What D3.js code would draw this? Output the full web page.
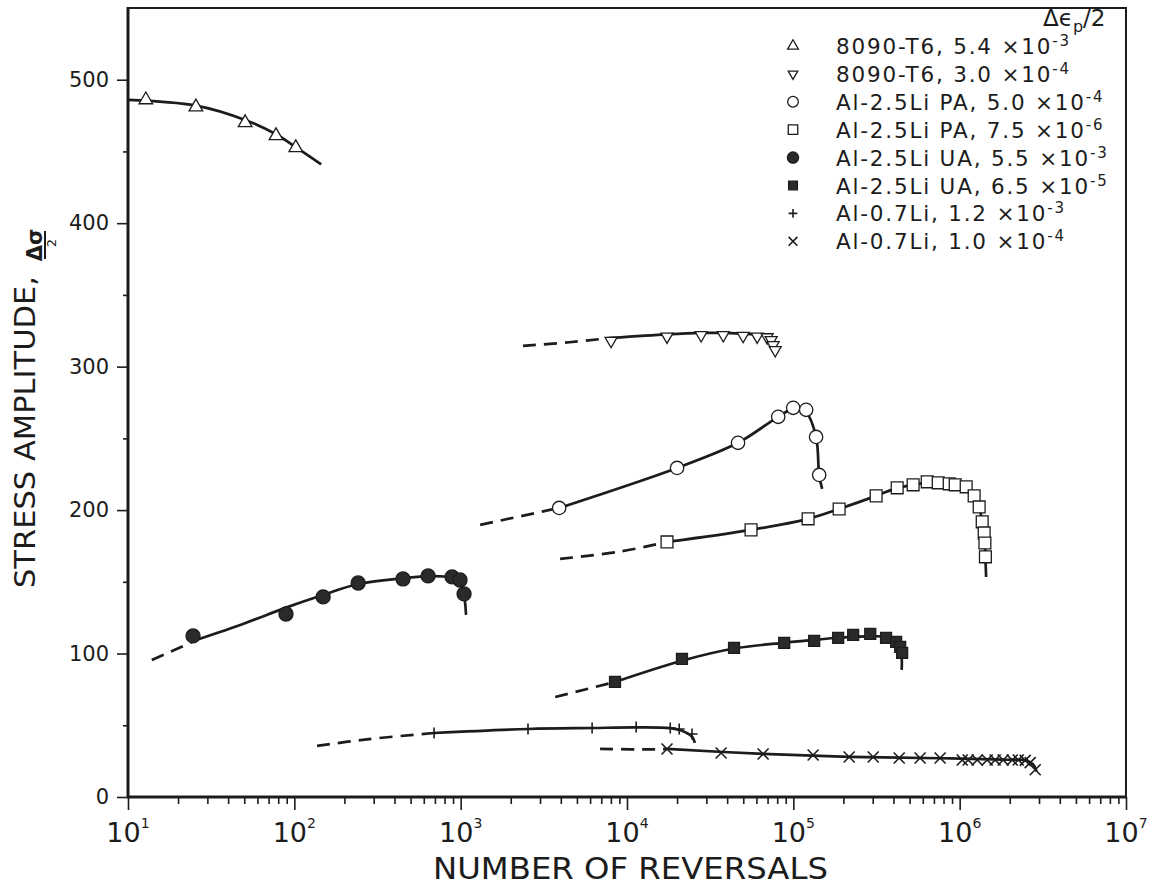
<!DOCTYPE html>
<html>
<head>
<meta charset="utf-8">
<script src="https://cdn.jsdelivr.net/npm/d3@7"></script>
<style>
  body { margin: 0; background: #fff; }
  text { font-family: "DejaVu Sans", "Liberation Sans", sans-serif; fill: #1c1c1c; }
</style>
</head>
<body>
<div id="chart-area"></div>
<script>
// values: [reversals, stress amplitude]
var t6High = [[12.8,486],[25.6,481],[50.6,470],[77.6,461],[102,452.6]];
var t6HighFit = [[10,486],[25.6,482],[50.6,472],[77.6,462],[102,453],[145,441]];

var t6Low = [[8020,318],[17400,321],[27900,322],[37900,322],[49900,321.5],[60600,321],[69600,320.5],[73600,318.5],[75600,315],[77800,311.5]];
var t6LowFit = [[8020,320],[17400,322.5],[27900,323.5],[37900,323.5],[49900,323],[60600,322.5],[69600,321.5],[75000,318],[78500,311]];
var t6LowDash = [[2370,314.5],[4500,317],[8020,320]];

var paHigh = [[3910,201.5],[20000,229.4],[46500,246.9],[81100,265],[99800,271.3],[119400,269.9],[137000,251],[143000,224.5]];
var paHighFit = [[3910,201.5],[20000,229.4],[46500,246.9],[81100,265],[99800,270.5],[119400,268],[137000,251],[143000,224.5],[149000,214.8]];
var paHighDash = [[1310,189.7],[3910,201.5]];

var paLow = [[17400,177.8],[55700,186.2],[122700,193.9],[188500,200.8],[314600,209.9],[421000,215.5],[525000,217.6],[638000,219.7],[743000,219],[865000,218.3],[940000,217.6],[1094000,216.2],[1222000,209.9],[1310000,202.2],[1366000,191.8],[1404000,184.1],[1418000,177.1],[1428000,167.4]];
var paLowFit = [[17400,177.8],[55700,186.2],[122700,193.9],[188500,200.8],[314600,209.9],[421000,215.5],[525000,217.6],[638000,219.2],[865000,218.3],[1094000,216.2],[1222000,209.9],[1310000,202.2],[1366000,191.8],[1404000,184.1],[1418000,177.1],[1428000,167.4],[1442000,153.4]];
var paLowDash = [[3960,166],[9000,171],[17400,177.8]];

var uaHigh = [[24.6,112.3],[89.1,127.6],[149,139.5],[242,149.2],[450,152],[637,154.1],[888,153.4],[991,151.3],[1048,141.6]];
var uaHighFit = [[26.5,110],[50,121],[89,132],[150,141],[242,148.5],[450,152.5],[640,154],[890,153],[990,150],[1050,140],[1077,127]];
var uaHighDash = [[13.9,95.5],[26.5,110]];

var uaLow = [[8470,80.2],[21400,96.2],[44000,103.9],[88100,107.4],[133400,108.8],[186000,110.9],[229000,113],[290000,113.7],[361000,110.9],[415000,108.1],[439000,104.6],[451000,100.4]];
var uaLowFit = [[8470,80.2],[21400,95],[44000,103.5],[88100,107.5],[133400,109.5],[186000,111],[290000,112],[361000,111.5],[415000,108],[445000,100],[448000,88.6]];
var uaLowDash = [[3700,69.7],[8470,80.2]];

var liHigh = [[692,44.6],[2540,47.4],[6170,48.1],[11350,48.8],[18200,48.1],[20600,47.4],[24600,43.9]];
var liHighFit = [[692,44.6],[2540,47.4],[6170,48.1],[11350,48.5],[18200,48],[21000,46.5],[24600,42],[25600,37.7]];
var liHighDash = [[137,35.6],[273,40.2],[692,44.6]];

var liLow = [[17400,33.5],[36800,30.7],[65800,30],[131500,29.3],[216600,27.9],[302000,27.9],[433000,27.2],[578000,27.2],[763000,27.2],[1036000,25.8],[1125000,25.8],[1274000,25.8],[1463000,25.8],[1634000,25.8],[1826000,25.8],[2070000,25.8],[2250000,25.8],[2478000,25.5],[2655000,24],[2845000,19]];
var liLowFit = [[17400,33.5],[65800,30],[216600,28],[763000,27],[1826000,26],[2478000,25.5],[2750000,23],[2900000,18]];
var liLowDash = [[6890,33.5],[14800,33.2],[17400,33.5]];

var legendNames = ["8090-T6, 5.4 \u00d710", "8090-T6, 3.0 \u00d710", "Al-2.5Li PA, 5.0 \u00d710", "Al-2.5Li PA, 7.5 \u00d710",
                   "Al-2.5Li UA, 5.5 \u00d710", "Al-2.5Li UA, 6.5 \u00d710", "Al-0.7Li, 1.2 \u00d710", "Al-0.7Li, 1.0 \u00d710"];
var legendExps = ["-3", "-4", "-4", "-6", "-3", "-5", "-3", "-4"];
var markerKinds = ["triUp", "triDown", "circle", "square", "dot", "block", "plus", "cross"];

var yMajor = [0, 100, 200, 300, 400, 500];
var yMinor = [50, 150, 250, 350, 450];
var xDecades = [1, 2, 3, 4, 5, 6, 7];

var series = [
  { pts: t6High, fit: t6HighFit, dash: null },
  { pts: t6Low, fit: t6LowFit, dash: t6LowDash },
  { pts: paHigh, fit: paHighFit, dash: paHighDash },
  { pts: paLow, fit: paLowFit, dash: paLowDash },
  { pts: uaHigh, fit: uaHighFit, dash: uaHighDash },
  { pts: uaLow, fit: uaLowFit, dash: uaLowDash },
  { pts: liHigh, fit: liHighFit, dash: liHighDash },
  { pts: liLow, fit: liLowFit, dash: liLowDash }
];

var ink = "#1c1c1c";

var svg = d3.select("#chart-area")
  .append("svg")
  .attr("width", 1149)
  .attr("height", 894);

var x = d3.scaleLog()
  .domain([10, 1e7])
  .range([128, 1126]);

var y = d3.scaleLinear()
  .domain([0, 550])
  .range([797, 8]);

// axes
var yAxis = svg.append("g")
  .attr("transform", "translate(128,0)")
  .call(d3.axisLeft(y).tickValues(yMajor).tickSize(11).tickPadding(8));
yAxis.select(".domain").remove();
yAxis.selectAll("text").attr("font-size", 21).attr("font-family", "DejaVu Sans").attr("fill", ink);

var yMinorAxis = svg.append("g")
  .attr("transform", "translate(128,0)")
  .call(d3.axisLeft(y).tickValues(yMinor).tickSize(5).tickFormat(""));
yMinorAxis.select(".domain").remove();

var minorX = [];
xDecades.slice(0, -1).forEach(function(e) {
  for (var k = 2; k < 10; k++) minorX.push(k * Math.pow(10, e));
});

var xAxis = svg.append("g")
  .attr("transform", "translate(0,797)")
  .call(d3.axisBottom(x).tickValues(xDecades.map(function(e) { return Math.pow(10, e); })).tickSize(13).tickFormat(""));
xAxis.select(".domain").remove();

var xMinorAxis = svg.append("g")
  .attr("transform", "translate(0,797)")
  .call(d3.axisBottom(x).tickValues(minorX).tickSize(7).tickFormat(""));
xMinorAxis.select(".domain").remove();

svg.selectAll(".tick line").attr("stroke", ink).attr("stroke-width", 1.6);

var xLabels = svg.append("g")
  .selectAll("text")
  .data(xDecades)
  .enter()
  .append("text")
  .attr("x", function(d) { return x(Math.pow(10, d)); })
  .attr("y", 842)
  .attr("text-anchor", "middle")
  .attr("font-family", "Liberation Sans")
  .attr("font-size", 27);
xLabels.append("tspan").text("10");
xLabels.append("tspan").attr("dy", -14).attr("font-size", 14).text(function(d) { return d; });

// frame
svg.append("line").attr("x1", 128).attr("x2", 128).attr("y1", 7).attr("y2", 798)
  .attr("stroke", ink).attr("stroke-width", 3);
svg.append("line").attr("x1", 127).attr("x2", 1127).attr("y1", 797).attr("y2", 797)
  .attr("stroke", ink).attr("stroke-width", 3);
svg.append("line").attr("x1", 128).attr("x2", 1127).attr("y1", 8).attr("y2", 8)
  .attr("stroke", ink).attr("stroke-width", 2);
svg.append("line").attr("x1", 1126).attr("x2", 1126).attr("y1", 8).attr("y2", 797)
  .attr("stroke", ink).attr("stroke-width", 2);

// axis titles
svg.append("text")
  .attr("x", 433)
  .attr("y", 879)
  .attr("font-size", 30)
  .attr("textLength", 395)
  .attr("lengthAdjust", "spacingAndGlyphs")
  .text("NUMBER OF REVERSALS");

var ylab = svg.append("g").attr("transform", "translate(35,588) rotate(-90)");
ylab.append("text")
  .attr("x", 0).attr("y", 0)
  .attr("font-size", 28)
  .attr("textLength", 312)
  .attr("lengthAdjust", "spacingAndGlyphs")
  .text("STRESS AMPLITUDE,");
ylab.append("text")
  .attr("x", 343).attr("y", 7)
  .attr("text-anchor", "middle")
  .attr("font-size", 21)
  .attr("font-weight", "bold")
  .text("\u0394\u03c3");
ylab.append("line")
  .attr("x1", 329).attr("x2", 357).attr("y1", 10).attr("y2", 10)
  .attr("stroke", ink).attr("stroke-width", 2);
ylab.append("text")
  .attr("x", 345).attr("y", 21)
  .attr("text-anchor", "middle")
  .attr("font-size", 13)
  .text("2");

// markers
function markerPath(kind, big) {
  var s = big ? 1 : 0.8;
  if (kind === "triUp") return d3.symbol().type(d3.symbolTriangle).size(80 * s * s)();
  if (kind === "triDown") return d3.symbol().type(d3.symbolTriangle).size(62 * s * s)();
  if (kind === "circle") return d3.symbol().type(d3.symbolCircle).size(140 * s * s)();
  if (kind === "square") return d3.symbol().type(d3.symbolSquare).size(140 * s * s)();
  if (kind === "dot") return d3.symbol().type(d3.symbolCircle).size(155 * s * s)();
  if (kind === "block") return d3.symbol().type(d3.symbolSquare).size(120 * s * s)();
  var a = 5.5 * s;
  if (kind === "plus") return "M0," + (-a) + "V" + a + "M" + (-a) + ",0H" + a;
  return "M" + (-a) + "," + (-a) + "L" + a + "," + a + "M" + (-a) + "," + a + "L" + a + "," + (-a);
}

function styleMarker(sel, kind) {
  var filled = kind === "dot" || kind === "block";
  sel.attr("fill", filled ? "#2a2a2a" : (kind === "plus" || kind === "cross" ? "none" : "#fff"))
    .attr("stroke", ink)
    .attr("stroke-width", kind === "plus" || kind === "cross" ? 1.6 : 1.3);
}

var line = d3.line()
  .x(function(d) { return x(d[0]); })
  .y(function(d) { return y(d[1]); })
  .curve(d3.curveCatmullRom.alpha(0.5));

var plot = svg.append("g");

series.forEach(function(s, i) {
  if (s.dash) {
    plot.append("path")
      .attr("d", line(s.dash))
      .attr("fill", "none")
      .attr("stroke", ink)
      .attr("stroke-width", 2.7)
      .attr("stroke-dasharray", "13,8");
  }
  plot.append("path")
    .attr("d", line(s.fit))
    .attr("fill", "none")
    .attr("stroke", ink)
    .attr("stroke-width", 2.7);
});

series.forEach(function(s, i) {
  var kind = markerKinds[i];
  plot.selectAll(".m" + i)
    .data(s.pts)
    .enter()
    .append("path")
    .attr("class", "m" + i)
    .attr("d", markerPath(kind, true))
    .attr("transform", function(d) {
      return "translate(" + x(d[0]) + "," + y(d[1]) + ")" + (kind === "triDown" ? " rotate(180)" : "");
    })
    .call(styleMarker, kind);
});

// legend
var legend = svg.append("g");
var title = legend.append("text").attr("x", 1043).attr("y", 26).attr("font-size", 23);
title.append("tspan").text("\u0394\u03f5");
title.append("tspan").attr("dy", 6).attr("font-size", 16).text("p");
title.append("tspan").attr("dy", -6).text("/2");

var rows = legend.selectAll(".row")
  .data(legendNames)
  .enter()
  .append("g")
  .attr("class", "row")
  .attr("transform", function(d, i) { return "translate(0," + (46 + i * 27.9) + ")"; });

rows.append("path")
  .attr("d", function(d, i) { return markerPath(markerKinds[i], false); })
  .attr("transform", function(d, i) { return "translate(793,0)" + (markerKinds[i] === "triDown" ? " rotate(180)" : ""); })
  .each(function(d, i) { styleMarker(d3.select(this), markerKinds[i]); });

var rowText = rows.append("text")
  .attr("x", 836)
  .attr("y", 8)
  .attr("font-size", 21.5)
  .attr("letter-spacing", 1.8);
rowText.append("tspan").text(function(d) { return d; });
rowText.append("tspan").attr("dy", -8).attr("font-size", 15).text(function(d, i) { return legendExps[i]; });
</script>
</body>
</html>
